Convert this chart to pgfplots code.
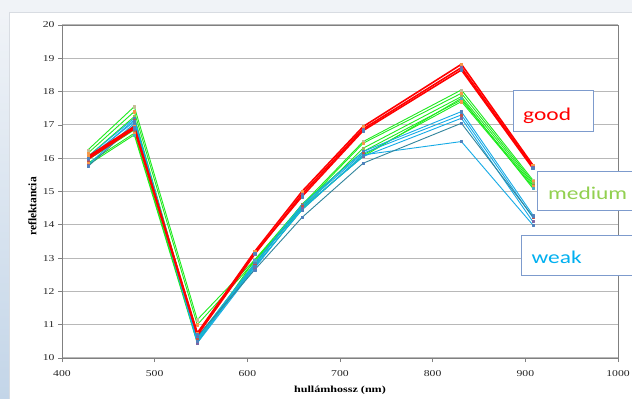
\documentclass[border=0pt]{standalone}
\usepackage{fontspec}
\setmainfont{Liberation Serif}[FakeStretch=1.3]
\newfontfamily\plainser{Liberation Serif}
\newfontfamily\calib{Carlito}[FakeStretch=1.3]
\usepackage{pgfplots}
\pgfplotsset{compat=1.18}
\definecolor{gr}{RGB}{30,235,30}
\definecolor{bl}{RGB}{20,170,230}
\definecolor{dteal}{RGB}{49,133,156}
\definecolor{bgc}{RGB}{240,243,247}
\definecolor{strip}{RGB}{195,213,232}
\definecolor{panel}{RGB}{216,220,226}
\definecolor{boxc}{RGB}{125,155,205}
\definecolor{medc}{RGB}{146,208,80}
\definecolor{weakc}{RGB}{0,176,240}
\definecolor{m1}{HTML}{4F81BD}
\definecolor{m2}{HTML}{C0504D}
\definecolor{m3}{HTML}{9BBB59}
\definecolor{m4}{HTML}{8064A2}
\definecolor{m5}{HTML}{4BACC6}
\definecolor{m6}{HTML}{F79646}
\definecolor{m7}{HTML}{C4BD97}
\definecolor{m8}{HTML}{948A54}
\pgfplotsset{
  ser/.style 2 args={color=#1, line width=0.9pt, line join=round, mark=square*, mark size=1.1pt, mark options={draw=#2, fill=#2, solid, line width=0.3pt}},
  redser/.style={color=red, line width=1.6pt, line join=round, mark=square*, mark size=1.2pt, mark options={draw=#1, fill=#1, solid, line width=0.3pt}},
}
\begin{document}
\begin{tikzpicture}
\useasboundingbox (0,0) rectangle (632pt,399pt);
\clip (0,0) rectangle (632pt,399pt);
\fill[bgc] (0,0) rectangle (632pt,399pt);
\shade[top color=bgc, bottom color=strip] (0,0) rectangle (9pt,387pt);
\fill[white] (9pt,0) rectangle (640pt,387pt);
\draw[panel, line width=0.8pt] (9pt,-2pt) -- (9pt,387pt) -- (640pt,387pt);
\begin{axis}[
  at={(62pt,41pt)}, anchor=south west, scale only axis,
  width=556pt, height=333pt,
  xmin=400, xmax=1000, ymin=10, ymax=20,
  xtick={400,500,...,1000}, ytick={10,11,...,20},
  /pgf/number format/assume math mode=true,
  /pgf/number format/1000 sep={},
  ticklabel style={font=\fontsize{9}{10}\selectfont, text=black!85},
  xticklabel style={yshift=-5pt},
  xlabel={hullámhossz (nm)},
  ylabel={reflektancia},
  xlabel style={font=\bfseries\fontsize{9.3}{10}\selectfont, at={(axis description cs:0.5,0)}, anchor=center, yshift=-32pt},
  ylabel style={font=\plainser\bfseries\fontsize{11.5}{12}\selectfont, at={(axis description cs:-0.0531,0.455)}, anchor=center},
  axis line style={draw=black!50, line width=0.8pt},
  tick style={draw=black!50, line width=0.7pt},
  major tick length=4pt, tick align=outside,
  xtick pos=bottom, ytick pos=left,
  ymajorgrids, grid style={draw=black!28, line width=1pt},
  clip=false,
]
% green (medium)
\addplot[ser={gr}{m7}] coordinates {(428,16.25)(478,17.55)(546,11.15)(608,12.95)(659,14.6)(725,16.5)(831,18.05)(908,15.35)};
\addplot[ser={gr}{m6}] coordinates {(428,16.15)(478,17.4)(546,11.0)(608,12.9)(659,14.55)(725,16.45)(831,17.95)(908,15.3)};
\addplot[ser={gr}{m3}] coordinates {(428,16.05)(478,17.25)(546,10.6)(608,12.85)(659,14.5)(725,16.3)(831,17.85)(908,15.25)};
\addplot[ser={gr}{m8}] coordinates {(428,15.95)(478,16.85)(546,10.55)(608,12.8)(659,14.62)(725,16.2)(831,17.75)(908,15.2)};
\addplot[ser={gr}{m6}] coordinates {(428,15.85)(478,16.75)(546,10.5)(608,12.75)(659,14.45)(725,16.1)(831,17.7)(908,15.15)};
\addplot[ser={gr}{m5}] coordinates {(428,15.8)(478,16.7)(546,10.45)(608,12.95)(659,14.5)(725,16.05)(831,17.8)(908,15.1)};
% blue (weak)
\addplot[ser={bl}{m1}] coordinates {(428,16.05)(478,17.2)(546,10.6)(608,12.85)(659,14.6)(725,16.2)(831,17.4)(908,14.3)};
\addplot[ser={bl}{m2}] coordinates {(428,15.95)(478,17.15)(546,10.55)(608,12.8)(659,14.55)(725,16.15)(831,17.3)(908,14.22)};
\addplot[ser={bl}{m4}] coordinates {(428,15.8)(478,17.05)(546,10.45)(608,12.7)(659,14.5)(725,16.05)(831,17.2)(908,14.1)};
\addplot[ser={bl}{m1}] coordinates {(428,16.0)(478,17.1)(546,10.5)(608,12.75)(659,14.45)(725,16.1)(831,16.5)(908,14.0)};
\addplot[ser={dteal}{m1}] coordinates {(428,15.75)(478,17.0)(546,10.65)(608,12.65)(659,14.22)(725,15.85)(831,17.05)(908,14.25)};
% red (good)
\addplot[redser=m6] coordinates {(428,16.05)(478,16.95)(546,10.75)(608,13.2)(659,15.0)(725,16.95)(831,18.82)(908,15.8)};
\addplot[redser=m4] coordinates {(428,15.97)(478,16.88)(546,10.68)(608,13.12)(659,14.92)(725,16.88)(831,18.72)(908,15.74)};
\addplot[redser=m1] coordinates {(428,16.0)(478,16.92)(546,10.72)(608,13.15)(659,14.85)(725,16.83)(831,18.65)(908,15.7)};
\end{axis}
\draw[boxc, line width=0.8pt, fill=white] (513pt,268pt) rectangle (593.5pt,308.5pt);
\draw[boxc, line width=0.8pt, fill=white] (537.5pt,188.3pt) rectangle (645pt,228pt);
\draw[boxc, line width=0.8pt, fill=white] (521.5pt,124pt) rectangle (645pt,164pt);
\node[anchor=base west, inner sep=0pt, text=red, font=\calib\fontsize{18}{20}\selectfont] at (523pt,278pt) {good};
\node[anchor=base west, inner sep=0pt, text=medc, font=\calib\fontsize{18}{20}\selectfont] at (548pt,199.7pt) {medium};
\node[anchor=base west, inner sep=0pt, text=weakc, font=\calib\fontsize{18}{20}\selectfont] at (531.5pt,135.7pt) {weak};
\end{tikzpicture}
\end{document}
